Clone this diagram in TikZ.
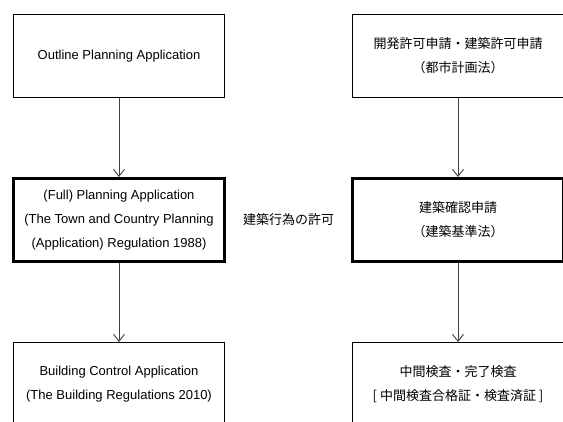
\documentclass[tikz,border=0pt]{standalone}
\usepackage{fontspec}
\setmainfont{Liberation Sans}
\newfontfamily\jp{Noto Sans CJK JP}
\usepackage{tikz}
\usetikzlibrary{arrows.meta,calc,positioning}
\tikzset{
  caja/.style={
    draw=black,
    line width=1pt,
    fill=white,
    align=center,
    minimum width=211pt,
    minimum height=83pt,
    inner sep=4pt,
    font=\fontsize{13}{24}\selectfont
  },
  cajagruesa/.style={
    caja,
    line width=3pt
  },
  etiqueta/.style={
    align=center,
    inner sep=2pt,
    font=\fontsize{13}{24}\selectfont\jp
  },
  arrow/.style={
    -{Straight Barb[length=7pt,width=11pt]},
    line width=0.9pt,
    black!75
  }
}
\begin{document}
\begin{tikzpicture}[x=1pt,y=1pt,node distance=79pt and 127pt]
\useasboundingbox (0,0) rectangle (563,-421);
\node[caja] (outline) at (119,-56) {Outline Planning Application};
\node[caja, right=of outline] (kaihatsu) {\jp 開発許可申請・建築許可申請\\\jp （都市計画法）};
\node[cajagruesa, below=of outline] (full) {(Full) Planning Application\\(The Town and Country Planning\\(Application) Regulation 1988)};
\node[cajagruesa, below=of kaihatsu] (kakunin) {\jp 建築確認申請\\\jp （建築基準法）};
\node[caja, below=of full] (control) {Building Control Application\\(The Building Regulations 2010)};
\node[caja, below=of kakunin] (kensa) {\jp 中間検査・完了検査\\\jp [ 中間検査合格証・検査済証 ]};
\node[etiqueta] (kyoka) at ($(full.east)!0.5!(kakunin.west)$) {建築行為の許可};
\draw[arrow] (outline) -- (full);
\draw[arrow] (full) -- (control);
\draw[arrow] (kaihatsu) -- (kakunin);
\draw[arrow] (kakunin) -- (kensa);
\end{tikzpicture}
\end{document}
